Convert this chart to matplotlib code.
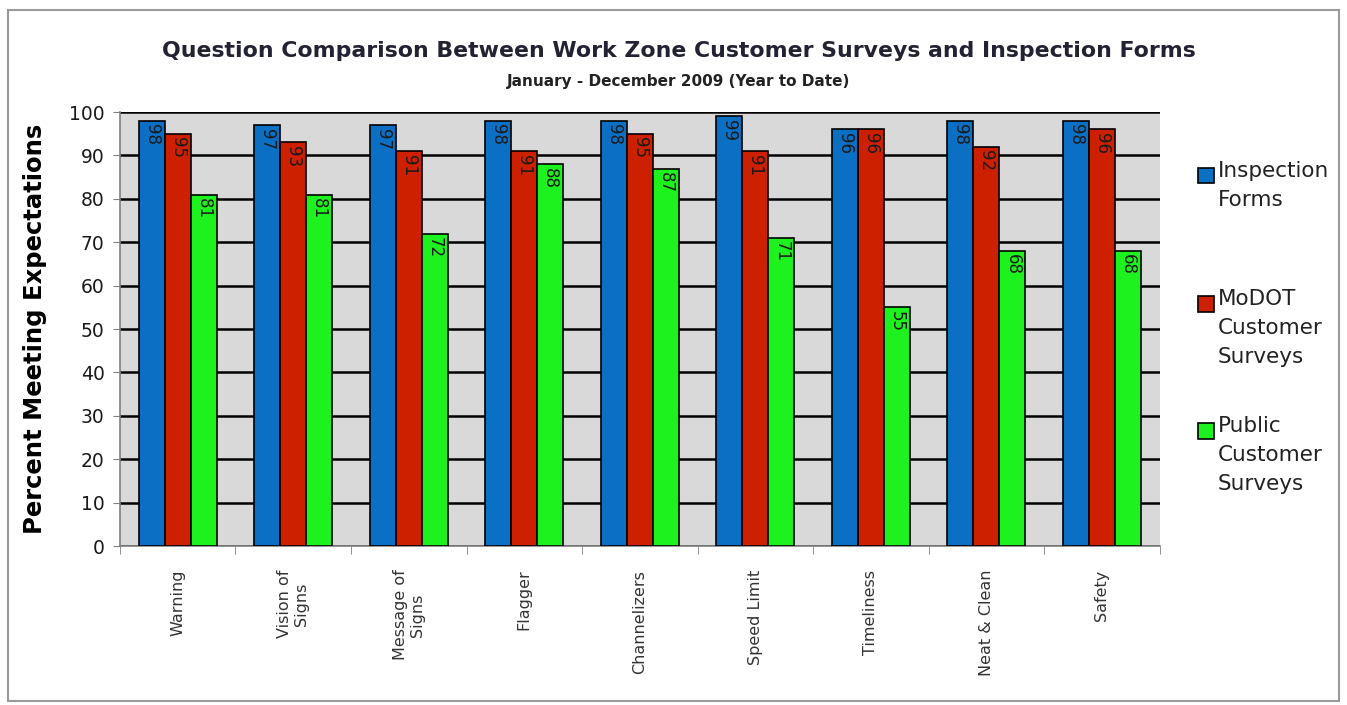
import matplotlib.pyplot as plt
from matplotlib.patches import Rectangle
import numpy as np

# Categories and values
categories = ['Warning', 'Vision of\nSigns', 'Message of\nSigns', 'Flagger', 'Channelizers',
              'Speed Limit', 'Timeliness', 'Neat & Clean', 'Safety']
inspection = [98, 97, 97, 98, 98, 99, 96, 98, 98]
modot = [95, 93, 91, 91, 95, 91, 96, 92, 96]
public = [81, 81, 72, 88, 87, 71, 55, 68, 68]

series_names = ['Inspection\nForms', 'MoDOT\nCustomer\nSurveys', 'Public\nCustomer\nSurveys']
series_values = [inspection, modot, public]
series_colors = ['#0b6fc4', '#cc2000', '#1ef21e']

fig = plt.figure(figsize=(13.47, 7.05), dpi=100)
ax = fig.add_axes([0.089, 0.2255, 0.772, 0.6155])
ax.set_facecolor('#d9d9d9')

x = np.arange(len(categories))
width = 0.225

for i, (vals, col) in enumerate(zip(series_values, series_colors)):
    pos = x + (i - 1) * width
    ax.bar(pos, vals, width=width, color=col, edgecolor='black', linewidth=1.2, zorder=3)
    for xp, v in zip(pos, vals):
        ax.text(xp, v - 0.8, str(v), rotation=270, ha='center', va='top',
                fontsize=12, color='#1a1a1a', zorder=4)

ax.set_xlim(-0.5, len(categories) - 0.5)
ax.set_ylim(0, 100)
ax.set_yticks(np.arange(0, 101, 10))
ax.tick_params(axis='y', labelsize=13.5, length=5, pad=6, color='#808080', labelcolor='#1a1a1a')
ax.yaxis.grid(True, color='black', linewidth=1.8, zorder=1)
ax.set_axisbelow(True)

# category labels at group centres, tick marks at boundaries
ax.set_xticks(x)
ax.set_xticklabels(categories, rotation=90, fontsize=11.5, color='#333333',
                   va='top', ha='center', multialignment='center')
ax.tick_params(axis='x', which='major', length=0, pad=17)
ax.set_xticks(np.arange(-0.5, len(categories), 1), minor=True)
ax.tick_params(axis='x', which='minor', length=6, color='#808080')

for side in ['top', 'right']:
    ax.spines[side].set_visible(False)
for side in ['left', 'bottom']:
    ax.spines[side].set_color('#808080')
    ax.spines[side].set_linewidth(1.2)

ax.set_ylabel('Percent Meeting Expectations', fontsize=17.5, fontweight='bold', labelpad=16)

fig.text(0.504, 0.928, 'Question Comparison Between Work Zone Customer Surveys and Inspection Forms',
         ha='center', va='center', fontsize=15.8, fontweight='bold', color='#222233')
fig.text(0.504, 0.885, 'January - December 2009 (Year to Date)',
         ha='center', va='center', fontsize=11, fontweight='bold', color='#222222')

# legend
legend_tops = [0.762, 0.580, 0.400]
for name, col, top in zip(series_names, series_colors, legend_tops):
    fig.patches.append(Rectangle((0.8895, top - 0.022), 0.0115, 0.022, transform=fig.transFigure,
                                 facecolor=col, edgecolor='black', linewidth=1.2))
    fig.text(0.904, top + 0.01, name, ha='left', va='top', fontsize=15.5,
             color='#222222', linespacing=1.55)

# outer chart frame
fig.patches.append(Rectangle((0.006, 0.006), 0.988, 0.98, transform=fig.transFigure,
                             facecolor='none', edgecolor='#9a9a9a', linewidth=1.5))

fig.savefig('out.png', dpi=100)
